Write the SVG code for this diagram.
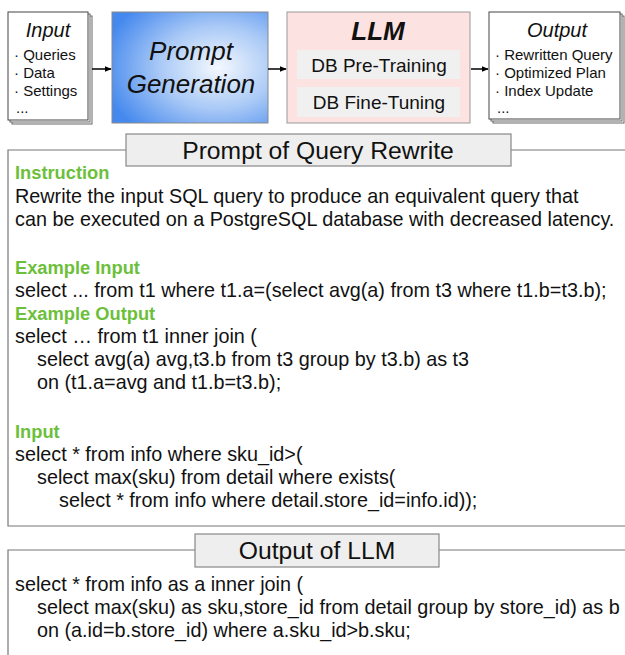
<svg xmlns="http://www.w3.org/2000/svg" width="625" height="655" viewBox="0 0 625 655">
  <defs>
    <radialGradient id="promptFill" cx="0.68" cy="0.5" r="0.75">
      <stop offset="0" stop-color="#f4f8fe"/>
      <stop offset="0.5" stop-color="#a9c9f6"/>
      <stop offset="1" stop-color="#4689ee"/>
    </radialGradient>
    <marker id="arrow" viewBox="0 0 10 10" refX="9" refY="5" markerWidth="7" markerHeight="7" orient="auto" markerUnits="userSpaceOnUse">
      <path d="M0,1 L10,5 L0,9 z" fill="#000"/>
    </marker>
  </defs>
  <style>
    text { font-family: "Liberation Sans", Arial, Helvetica, sans-serif; fill: #111; }
    .paper { fill: #fff; stroke: #444; stroke-width: 1; }
    .paper-back { fill: #fff; stroke: #666; stroke-width: 1; }
    .head { font-size: 20px; font-style: italic; text-anchor: middle; }
    .bullet { font-size: 15px; }
    .chip { fill: #f0f0f0; stroke: none; }
    .chip-text { font-size: 19px; text-anchor: middle; }
    .frame { fill: none; stroke: #777; stroke-width: 1.2; }
    .title-box { fill: #eeeeee; stroke: #888; stroke-width: 1.2; }
    .title { font-size: 24.7px; text-anchor: middle; }
    .label { font-size: 18.3px; font-weight: bold; fill: #6cbf3a; }
    .body { font-size: 19.8px; }
    .conn { stroke: #000; stroke-width: 1.5; fill: none; marker-end: url(#arrow); }
  </style>

  <!-- Input: stacked sheets -->
  <g id="input">
    <rect class="paper-back" x="12" y="16" width="80" height="108"/>
    <rect class="paper-back" x="10" y="14" width="80" height="108"/>
    <rect class="paper" x="8" y="12" width="80" height="108"/>
    <text class="head" x="48" y="37">Input</text>
    <text class="bullet" x="14" y="60">· Queries</text>
    <text class="bullet" x="14" y="78">· Data</text>
    <text class="bullet" x="14" y="96">· Settings</text>
    <text class="bullet" x="16" y="113">...</text>
  </g>

  <!-- Prompt generation -->
  <g id="prompt-generation">
    <rect x="112" y="12" width="156" height="111" fill="url(#promptFill)" stroke="#888" stroke-width="1"/>
    <text x="191" y="60" font-size="26" font-style="italic" text-anchor="middle">Prompt</text>
    <text x="191" y="93" font-size="26" font-style="italic" text-anchor="middle">Generation</text>
  </g>

  <!-- LLM -->
  <g id="llm">
    <rect x="287" y="12" width="183" height="111" fill="#fde2e2" stroke="#999" stroke-width="1"/>
    <text x="378" y="40" font-size="26" font-weight="bold" font-style="italic" text-anchor="middle">LLM</text>
    <rect class="chip" x="297" y="50" width="163" height="29"/>
    <text class="chip-text" x="379" y="72">DB Pre-Training</text>
    <rect class="chip" x="297" y="87" width="163" height="30"/>
    <text class="chip-text" x="379" y="109">DB Fine-Tuning</text>
  </g>

  <!-- Output: stacked sheets -->
  <g id="output">
    <rect class="paper-back" x="493" y="16" width="131" height="107"/>
    <rect class="paper-back" x="491" y="14" width="131" height="107"/>
    <rect class="paper" x="489" y="12" width="131" height="107"/>
    <text class="head" x="557" y="37">Output</text>
    <text class="bullet" x="495" y="60">· Rewritten Query</text>
    <text class="bullet" x="495" y="78">· Optimized Plan</text>
    <text class="bullet" x="495" y="96">· Index Update</text>
    <text class="bullet" x="497" y="113">...</text>
  </g>

  <!-- Connectors -->
  <g id="connectors">
    <line class="conn" x1="92" y1="69" x2="111" y2="69"/>
    <line class="conn" x1="268" y1="69" x2="286" y2="69"/>
    <line class="conn" x1="471" y1="69" x2="488" y2="69"/>
  </g>

  <!-- Prompt panel -->
  <g id="prompt-panel">
    <path class="frame" d="M126,150 H8 V526 H630 M511,150 H630"/>
    <rect class="title-box" x="126" y="134" width="385" height="32"/>
    <text class="title" x="318" y="159">Prompt of Query Rewrite</text>

    <text class="label" x="15" y="179">Instruction</text>
    <text class="body" x="15" y="203">Rewrite the input SQL query to produce an equivalent query that</text>
    <text class="body" x="15" y="226">can be executed on a PostgreSQL database with decreased latency.</text>

    <text class="label" x="15" y="274">Example Input</text>
    <text class="body" x="15" y="297">select ... from t1 where t1.a=(select avg(a) from t3 where t1.b=t3.b);</text>
    <text class="label" x="15" y="320">Example Output</text>
    <text class="body" x="15" y="343">select … from t1 inner join (</text>
    <text class="body" x="37" y="366">select avg(a) avg,t3.b from t3 group by t3.b) as t3</text>
    <text class="body" x="37" y="389">on (t1.a=avg and t1.b=t3.b);</text>

    <text class="label" x="15" y="438">Input</text>
    <text class="body" x="15" y="461">select * from info where sku_id&gt;(</text>
    <text class="body" x="37" y="484">select max(sku) from detail where exists(</text>
    <text class="body" x="59" y="507">select * from info where detail.store_id=info.id));</text>
  </g>

  <!-- LLM output panel -->
  <g id="output-panel">
    <path class="frame" d="M195,550 H8 V660 M439,550 H630"/>
    <rect class="title-box" x="195" y="534" width="244" height="33"/>
    <text class="title" x="317" y="559">Output of LLM</text>
    <text class="body" x="15" y="591">select * from info as a inner join (</text>
    <text class="body" x="37" y="614">select max(sku) as sku,store_id from detail group by store_id) as b</text>
    <text class="body" x="37" y="637">on (a.id=b.store_id) where a.sku_id&gt;b.sku;</text>
  </g>
</svg>
